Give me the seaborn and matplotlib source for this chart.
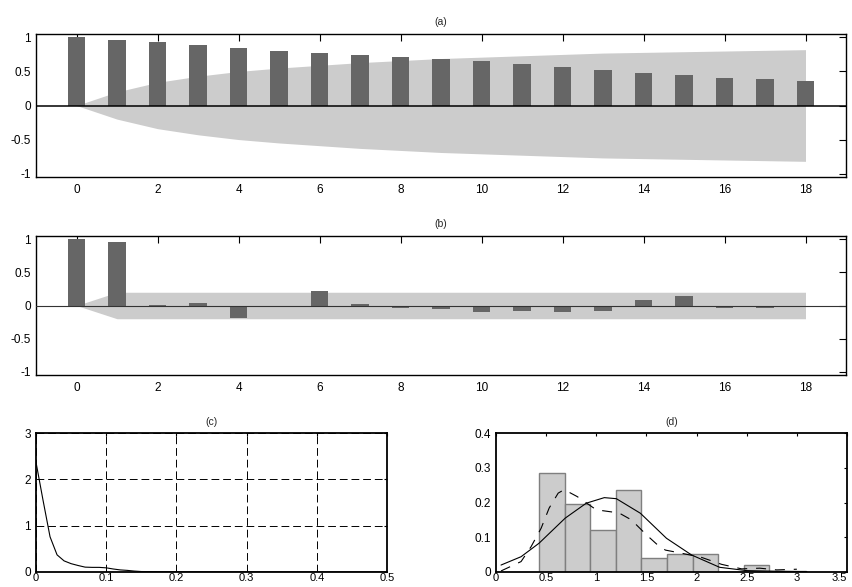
import numpy as np
import pandas as pd
import matplotlib
matplotlib.use("Agg")
import matplotlib.pyplot as plt
import seaborn as sns

# ---------------- data ----------------
lags = list(range(19))
acf_vals = [1.00, 0.966, 0.936, 0.887, 0.843, 0.799, 0.770, 0.740, 0.711,
            0.681, 0.652, 0.603, 0.564, 0.515, 0.475, 0.441, 0.397, 0.382, 0.353]
acf_band = [0.0, 0.20, 0.34, 0.43, 0.50, 0.55, 0.59, 0.63, 0.66, 0.69,
            0.71, 0.73, 0.75, 0.77, 0.78, 0.79, 0.80, 0.81, 0.82]

pacf_vals = [1.00, 0.955, 0.012, 0.045, -0.195, -0.018, 0.226, 0.025, -0.04,
             -0.05, -0.10, -0.085, -0.10, -0.085, 0.09, 0.15, -0.035, -0.035, -0.025]
pacf_band = [0.0] + [0.20] * 18

spec_x = [0.0, 0.01, 0.02, 0.03, 0.04, 0.05, 0.06, 0.07, 0.08, 0.09, 0.10,
          0.11, 0.12, 0.13, 0.14, 0.15, 0.20, 0.30, 0.40, 0.50]
spec_y = [2.37, 1.55, 0.76, 0.37, 0.24, 0.18, 0.14, 0.105, 0.10, 0.10, 0.09,
          0.065, 0.045, 0.035, 0.02, 0.01, 0.005, 0.003, 0.002, 0.002]

hist_edges = [0.43, 0.685, 0.94, 1.195, 1.45, 1.705, 1.96, 2.215, 2.47, 2.725, 2.98, 3.09]
hist_heights = [0.285, 0.195, 0.121, 0.237, 0.039, 0.053, 0.052, 0.0, 0.020, 0.004, 0.0015]

norm_x = [0.05, 0.25, 0.43, 0.69, 0.9, 1.08, 1.2, 1.44, 1.7, 1.95, 2.23, 2.5, 2.8, 3.1]
norm_y = [0.020, 0.044, 0.083, 0.155, 0.198, 0.214, 0.211, 0.169, 0.097, 0.049,
          0.0135, 0.004, 0.002, 0.001]

kde_x = [0.05, 0.25, 0.35, 0.45, 0.53, 0.62, 0.68, 0.81, 1.0, 1.15, 1.22, 1.35,
         1.5, 1.63, 1.69, 1.85, 2.05, 2.25, 2.45, 2.63, 2.8, 3.0]
kde_y = [0.003, 0.030, 0.073, 0.126, 0.184, 0.227, 0.237, 0.217, 0.179, 0.173,
         0.171, 0.150, 0.107, 0.073, 0.063, 0.054, 0.042, 0.022, 0.009, 0.011,
         0.006, 0.008]

titles = ["(a)", "(b)", "(c)", "(d)"]
acf_yticks = [-1, -0.5, 0, 0.5, 1]
acf_yticklabels = ["-1", "-0.5", "0", "0.5", "1"]
acf_xticks = list(range(0, 19, 2))
spec_xticks = [0, 0.1, 0.2, 0.3, 0.4, 0.5]
spec_xticklabels = ["0", "0.1", "0.2", "0.3", "0.4", "0.5"]
spec_yticks = [0, 1, 2, 3]
hist_xticks = [0, 0.5, 1, 1.5, 2, 2.5, 3, 3.5]
hist_xticklabels = ["0", "0.5", "1", "1.5", "2", "2.5", "3", "3.5"]
hist_yticks = [0, 0.1, 0.2, 0.3, 0.4]
hist_yticklabels = ["0", "0.1", "0.2", "0.3", "0.4"]

# ---------------- style ----------------
sns.set_theme(style="white")
plt.rcParams["font.family"] = ["Liberation Sans", "DejaVu Sans"]
plt.rcParams["axes.edgecolor"] = "black"

BAR = "#666666"
BAND = "#cccccc"
LABEL_SIZE = 8.5

W, H = 853, 587
fig = plt.figure(figsize=(W / 100, H / 100), dpi=100)
fig.patch.set_facecolor("white")


def px_axes(l, t, r, b):
    return fig.add_axes([l / W, 1 - b / H, (r - l) / W, (b - t) / H])


ax_a = px_axes(36, 34, 846, 177)
ax_b = px_axes(36, 236, 846, 375)
ax_c = px_axes(36, 433, 387, 572)
ax_d = px_axes(496, 433, 847, 572)


def acf_panel(ax, vals, band, title, zero_color, zero_lw):
    ax.fill_between(lags, [-v for v in band], band, color=BAND, lw=0, zorder=1)
    df = pd.DataFrame({"lag": lags, "v": vals})
    sns.barplot(data=df, x="lag", y="v", native_scale=True, width=0.43,
                color=BAR, saturation=1, errorbar=None, ax=ax, zorder=2,
                linewidth=0)
    ax.axhline(0, color=zero_color, lw=zero_lw, zorder=3)
    ax.set_xlim(-1, 19)
    ax.set_ylim(-1.05, 1.05)
    ax.set_xticks(acf_xticks)
    ax.set_xticklabels([str(t) for t in acf_xticks])
    ax.set_yticks(acf_yticks)
    ax.set_yticklabels(acf_yticklabels)
    ax.set_xlabel("")
    ax.set_ylabel("")
    ax.tick_params(direction="in", length=5, width=0.8, top=True, right=True,
                   labelsize=LABEL_SIZE, colors="black")
    ax.tick_params(axis="x", pad=5)
    ax.tick_params(axis="y", pad=3.5)
    for s in ax.spines.values():
        s.set_linewidth(1.0)
        s.set_color("black")
    ax.set_title(title, fontsize=7.5, pad=6.5)


acf_panel(ax_a, acf_vals, acf_band, titles[0], "black", 1.1)
acf_panel(ax_b, pacf_vals, pacf_band, titles[1], "#333333", 0.8)

# ---- (c) spectrum ----
sns.lineplot(x=spec_x, y=spec_y, ax=ax_c, color="black", lw=0.8)
ax_c.set_xlim(0, 0.5)
ax_c.set_ylim(0, 3)
ax_c.set_xticks(spec_xticks)
ax_c.set_xticklabels(spec_xticklabels)
ax_c.set_yticks(spec_yticks)
ax_c.set_yticklabels([str(t) for t in spec_yticks])
ax_c.grid(True, color="black", lw=0.7, linestyle=(0, (8, 4)))
ax_c.set_axisbelow(False)
ax_c.tick_params(direction="in", length=2.5, width=0.8, top=True, right=True,
                 labelsize=LABEL_SIZE, colors="black")
ax_c.tick_params(axis="x", pad=0.8, labelsize=8)
ax_c.tick_params(axis="y", pad=3.5)
for s in ax_c.spines.values():
    s.set_linewidth(1.3)
    s.set_color("black")
ax_c.set_title(titles[2], fontsize=7.5, pad=6)

# ---- (d) histogram ----
centers = [(hist_edges[i] + hist_edges[i + 1]) / 2 for i in range(len(hist_heights))]
sns.histplot(x=centers, weights=hist_heights, bins=hist_edges, ax=ax_d,
             color=BAND, edgecolor="#7f7f7f", linewidth=1.0, alpha=1)
sns.lineplot(x=norm_x, y=norm_y, ax=ax_d, color="black", lw=0.8)
sns.lineplot(x=kde_x, y=kde_y, ax=ax_d, color="black", lw=0.8,
             linestyle=(0, (9, 8)))
ax_d.set_xlim(0, 3.5)
ax_d.set_ylim(0, 0.4)
ax_d.set_xticks(hist_xticks)
ax_d.set_xticklabels(hist_xticklabels)
ax_d.set_yticks(hist_yticks)
ax_d.set_yticklabels(hist_yticklabels)
ax_d.set_xlabel("")
ax_d.set_ylabel("")
ax_d.tick_params(direction="in", length=2.5, width=0.8, top=True, right=True,
                 labelsize=LABEL_SIZE, colors="black")
ax_d.tick_params(axis="x", pad=0.8, labelsize=8)
ax_d.tick_params(axis="y", pad=3.5)
for s in ax_d.spines.values():
    s.set_linewidth(1.3)
    s.set_color("black")
ax_d.set_title(titles[3], fontsize=7.5, pad=6)
# keep the last x label ("3.5") inside the figure edge
ax_d.get_xticklabels()[-1].set_horizontalalignment("right")

fig.savefig("out.png", dpi=100, facecolor="white")
